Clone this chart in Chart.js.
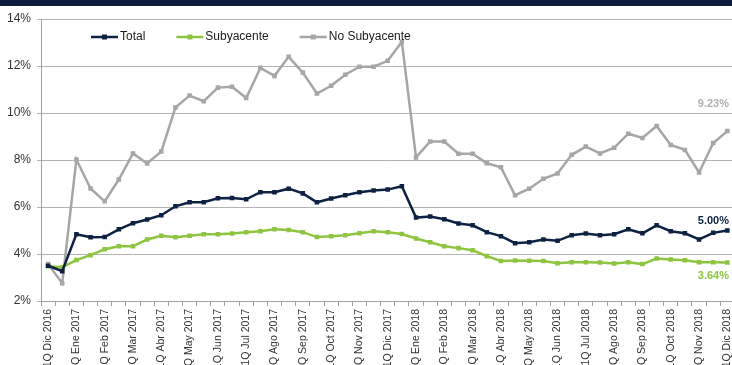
<!DOCTYPE html>
<html>
<head>
<meta charset="utf-8">
<script src="https://cdn.jsdelivr.net/npm/chart.js@4.4.1/dist/chart.umd.min.js"></script>
<style>
  html, body { margin: 0; padding: 0; width: 732px; height: 365px; overflow: hidden; background: #fff; }
  #chart { position: absolute; left: 0; top: 0; }
  #bar { position: absolute; left: 0; top: 0; width: 732px; height: 6px; background: #0c1e3c; }
</style>
</head>
<body>
<canvas id="chart" width="743" height="365"></canvas>
<div id="bar"></div>
<script>
// months of the series, each split in 1Q / 2Q (last one only 1Q)
const meses = [
    'Dic 2016',
    'Ene 2017', 'Feb 2017', 'Mar 2017', 'Abr 2017', 'May 2017', 'Jun 2017',
    'Jul 2017', 'Ago 2017', 'Sep 2017', 'Oct 2017', 'Nov 2017', 'Dic 2017',
    'Ene 2018', 'Feb 2018', 'Mar 2018', 'Abr 2018', 'May 2018', 'Jun 2018',
    'Jul 2018', 'Ago 2018', 'Sep 2018', 'Oct 2018', 'Nov 2018', 'Dic 2018'
];
const quincenas = meses.flatMap((m, i) => i < meses.length - 1 ? ['1Q ' + m, '2Q ' + m] : ['1Q ' + m]);

const total = [3.50, 3.27, 4.84, 4.71, 4.72, 5.05, 5.31, 5.47, 5.65, 6.03, 6.20, 6.20, 6.37,
    6.38, 6.33, 6.63, 6.63, 6.78, 6.58, 6.20, 6.36, 6.50, 6.63, 6.70, 6.74, 6.88,
    5.55, 5.60, 5.48, 5.30, 5.22, 4.93, 4.76, 4.46, 4.50, 4.62, 4.56, 4.80, 4.87,
    4.80, 4.84, 5.05, 4.88, 5.22, 4.97, 4.88, 4.62, 4.90, 5.00];
const subyacente = [3.48, 3.44, 3.74, 3.95, 4.20, 4.33, 4.33, 4.62, 4.78, 4.71, 4.78, 4.84, 4.84,
    4.87, 4.93, 4.97, 5.05, 5.02, 4.93, 4.72, 4.76, 4.80, 4.88, 4.97, 4.93, 4.85,
    4.66, 4.50, 4.33, 4.25, 4.16, 3.91, 3.70, 3.72, 3.71, 3.70, 3.61, 3.65, 3.65,
    3.64, 3.60, 3.65, 3.57, 3.81, 3.77, 3.73, 3.65, 3.65, 3.64];
const noSubyacente = [3.57, 2.76, 8.02, 6.79, 6.24, 7.17, 8.28, 7.85, 8.36, 10.23, 10.74, 10.50, 11.08,
    11.12, 10.64, 11.92, 11.58, 12.39, 11.72, 10.83, 11.16, 11.63, 11.97, 11.97, 12.22, 13.03,
    8.11, 8.79, 8.79, 8.27, 8.27, 7.86, 7.69, 6.50, 6.78, 7.20, 7.43, 8.22, 8.57,
    8.28, 8.52, 9.12, 8.94, 9.45, 8.64, 8.43, 7.47, 8.72, 9.23];

const yTicks = [2, 4, 6, 8, 10, 12, 14];

const FONT = '"Liberation Sans", Arial, sans-serif';
const NAVY = '#0d2142';
const GREEN = '#8dc540';
const GRAY = '#a6a6a6';

// legend drawn as line + square marker, inside the plot at the top
const lineLegend = {
    id: 'lineLegend',
    afterDraw: (chart) => {
        const ctx = chart.ctx;
        let x = 91;
        const y = 37;
        ctx.save();
        ctx.font = '12px ' + FONT;
        ctx.textBaseline = 'middle';
        chart.data.datasets.forEach(ds => {
            ctx.strokeStyle = ds.borderColor;
            ctx.lineWidth = 2.5;
            ctx.beginPath();
            ctx.moveTo(x, y);
            ctx.lineTo(x + 27, y);
            ctx.stroke();
            ctx.fillStyle = ds.borderColor;
            ctx.fillRect(x + 11, y - 2.5, 5, 5);
            ctx.fillStyle = '#1a1a1a';
            ctx.fillText(ds.label, x + 29, y);
            x += 29 + ctx.measureText(ds.label).width + 31;
        });
        ctx.restore();
    }
};

// value label next to the last point of each series
const endLabels = {
    id: 'endLabels',
    afterDatasetsDraw: (chart) => {
        const ctx = chart.ctx;
        ctx.save();
        ctx.font = 'bold 11px ' + FONT;
        ctx.textAlign = 'right';
        ctx.textBaseline = 'middle';
        chart.data.datasets.forEach((ds, i) => {
            const meta = chart.getDatasetMeta(i);
            const pt = meta.data[meta.data.length - 1];
            const v = ds.data[ds.data.length - 1];
            ctx.fillStyle = ds.labelColor;
            ctx.fillText(v.toFixed(2) + '%', 729, pt.y + ds.labelOffset);
        });
        ctx.restore();
    }
};

function serie(label, data, color, labelColor, labelOffset) {
    return {
        label, data,
        borderColor: color,
        backgroundColor: color,
        borderWidth: 2.5,
        pointStyle: 'rect',
        pointRadius: 3.2,
        pointBorderWidth: 0,
        tension: 0,
        labelColor, labelOffset
    };
}

new Chart(document.getElementById('chart').getContext('2d'), {
    type: 'line',
    data: {
        labels: quincenas,
        datasets: [
            serie('Total', total, NAVY, NAVY, -10),
            serie('Subyacente', subyacente, GREEN, GREEN, 14),
            serie('No Subyacente', noSubyacente, GRAY, '#b0b0b0', -27)
        ]
    },
    options: {
        responsive: false,
        devicePixelRatio: 1,
        animation: false,
        layout: { padding: { top: 19, right: 0, left: 0, bottom: 0 } },
        plugins: {
            legend: { display: false },
            tooltip: { enabled: false }
        },
        scales: {
            x: {
                offset: true,
                grid: { offset: true, drawOnChartArea: false, tickLength: 5, color: '#a0a0a0' },
                border: { color: '#a0a0a0' },
                ticks: {
                    autoSkip: false,
                    maxRotation: 90,
                    minRotation: 90,
                    padding: 3,
                    color: '#333',
                    font: { family: FONT, size: 10.5 },
                    callback: (v, i) => i % 2 === 0 ? quincenas[i] : ''
                },
                afterFit: s => { s.height = 64; }
            },
            y: {
                min: 2,
                max: 14,
                afterBuildTicks: s => { s.ticks = yTicks.map(v => ({ value: v })); },
                grid: { color: '#b4b4b4', tickLength: 4 },
                border: { color: '#a0a0a0' },
                ticks: {
                    padding: 6,
                    color: '#333',
                    font: { family: FONT, size: 12 },
                    callback: v => v + '%'
                },
                afterFit: s => { s.width = 41; }
            }
        }
    },
    plugins: [lineLegend, endLabels]
});
</script>
</body>
</html>
